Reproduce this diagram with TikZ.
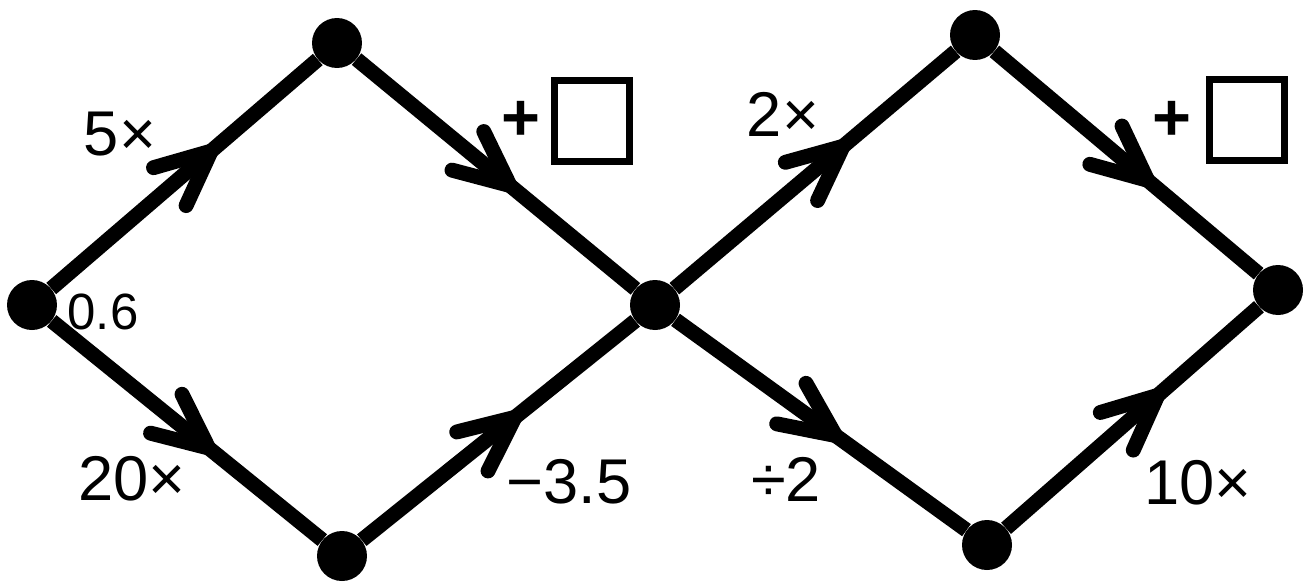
\documentclass[tikz,border=0pt]{standalone}
\usepackage{fontspec}
\setmainfont{Liberation Sans}
\usetikzlibrary{decorations.markings}
\tikzset{
  dot/.style={circle, fill=black, inner sep=0pt, minimum size=1.0cm},
  edge/.style={line width=8.5pt},
  chev/.style={line width=8.5pt, line cap=round, line join=miter},
  arr/.style={edge, postaction={decorate}, decoration={markings,
     mark=at position #1 with {\draw[chev] (-1.09cm,0.5cm) -- (0,0) -- (-1.09cm,-0.5cm);}}},
  lab/.style={font=\fontsize{36}{38}\selectfont, inner sep=0pt},
  small/.style={font=\fontsize{29}{31}\selectfont, inner sep=0pt},
  plus/.style={font=\bfseries\fontsize{38}{40}\selectfont, inner sep=0pt},
  box/.style={draw, line width=4.5pt, minimum width=1.5cm, minimum height=1.62cm, inner sep=0pt}
}
\begin{document}
\begin{tikzpicture}[x=0.02cm, y=-0.02cm]
\useasboundingbox (0,0) rectangle (1305,582);
\node[dot] (L) at (32,305) {};
\node[dot] (T1) at (337,43) {};
\node[dot] (B1) at (342,556) {};
\node[dot] (C) at (655,305) {};
\node[dot] (T2) at (975,35) {};
\node[dot] (B2) at (987,545) {};
\node[dot] (R) at (1278,290) {};

\draw[arr=0.60] (L) -- (T1);
\draw[arr=0.55] (T1) -- (C);
\draw[arr=0.58] (L) -- (B1);
\draw[arr=0.56] (B1) -- (C);
\draw[arr=0.60] (C) -- (T2);
\draw[arr=0.58] (T2) -- (R);
\draw[arr=0.55] (C) -- (B2);
\draw[arr=0.60] (B2) -- (R);

\node[lab] (l5) at (120,134) {5×};
\node[small] (l06) at (103,312) {0.6};
\node[lab] (l20) at (132,479) {20×};
\node[plus] (p1) at (521,121) {+};
\node[box] (b1) at (592,121) {};
\node[lab] (l35) at (569,482) {−3.5};
\node[lab] (l2) at (783,114) {2×};
\node[plus] (p2) at (1172,121) {+};
\node[box] (b2) at (1247,120) {};
\node[lab] (ld2) at (786,479) {÷2};
\node[lab] (l10) at (1198,483) {10×};
\end{tikzpicture}
\end{document}
